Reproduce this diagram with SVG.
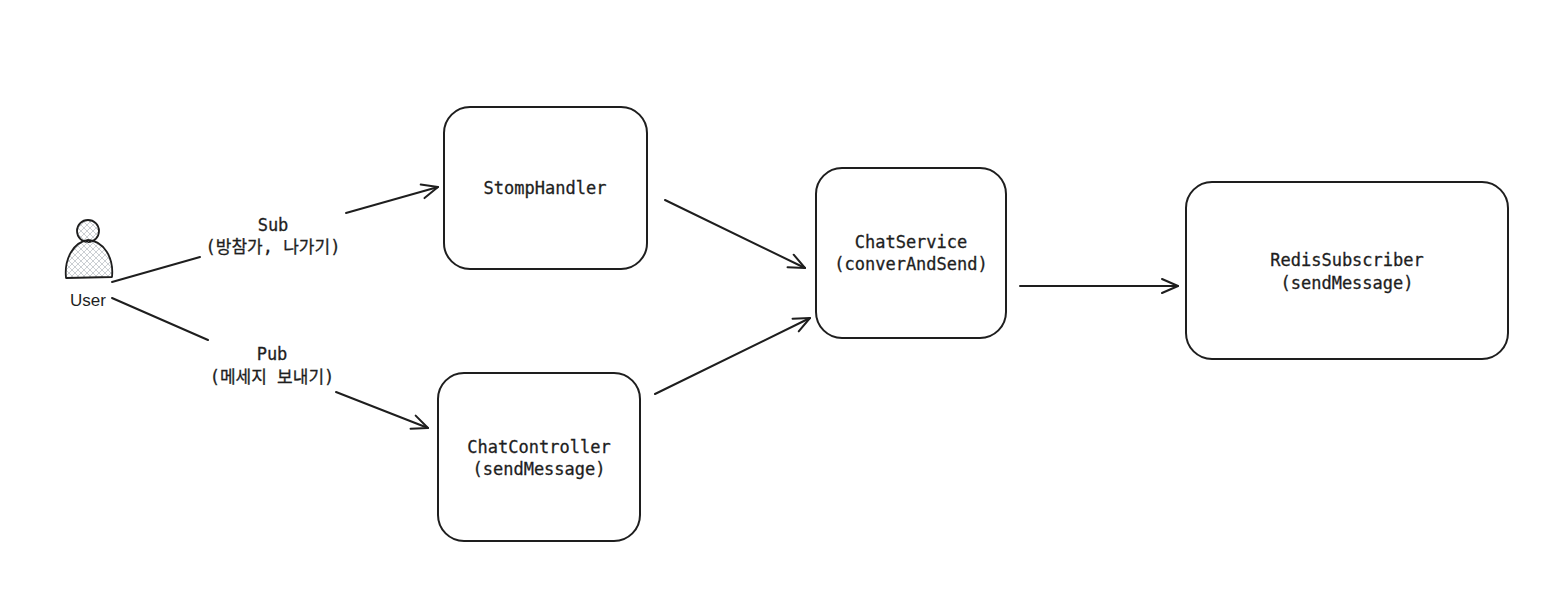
<svg xmlns="http://www.w3.org/2000/svg" width="1550" height="601" viewBox="0 0 1550 601">
<style>
.box{fill:#fff;stroke:#1e1e1e;stroke-width:2}
.t{font-family:"DejaVu Sans Mono","Noto Sans CJK KR",monospace;font-size:17px;fill:#1e1e1e;text-anchor:middle;stroke:#1e1e1e;stroke-width:0.3}
.lbl{font-family:"DejaVu Sans Mono","Noto Sans CJK KR",monospace;font-size:17px;fill:#1e1e1e;text-anchor:middle;stroke:#1e1e1e;stroke-width:0.3}
.c{fill:none;stroke:#1e1e1e;stroke-width:2;stroke-linecap:round}
</style>
<defs>
<marker id="ah" viewBox="0 0 20 20" refX="18" refY="10" markerWidth="20" markerHeight="20" markerUnits="userSpaceOnUse" orient="auto">
<path d="M2,3 L18,10 L2,17" fill="none" stroke="#1e1e1e" stroke-width="2" stroke-linecap="round" stroke-linejoin="round"/>
</marker>
<pattern id="hatch" width="6" height="6" patternUnits="userSpaceOnUse">
<path d="M0,0 L6,6 M6,0 L0,6" stroke="#a8aeb6" stroke-width="0.6"/>
</pattern>
</defs>
<rect width="1550" height="601" fill="#fff"/>
<g id="user">
<circle cx="88" cy="231" r="11" fill="url(#hatch)" stroke="#1e1e1e" stroke-width="1.8"/>
<path d="M66,278 C64,258 74,242 88,240 C104,241 114,258 112,277 Z" fill="url(#hatch)" stroke="#1e1e1e" stroke-width="1.8" stroke-linejoin="round"/>
<text x="88" y="306" style="font-family:'Liberation Sans',sans-serif;font-size:17px;fill:#1e1e1e;text-anchor:middle">User</text>
</g>
<g id="stomphandler">
<rect class="box" x="444" y="107" width="203" height="162" rx="26"/>
<text class="t" x="545" y="194">StompHandler</text>
</g>
<g id="chatcontroller">
<rect class="box" x="438" y="373" width="202" height="168" rx="26"/>
<text class="t" x="539" y="453">ChatController</text>
<text class="t" x="539" y="475">(sendMessage)</text>
</g>
<g id="chatservice">
<rect class="box" x="816" y="168" width="190" height="170" rx="26"/>
<text class="t" x="911" y="248">ChatService</text>
<text class="t" x="911" y="270">(converAndSend)</text>
</g>
<g id="redissubscriber">
<rect class="box" x="1186" y="182" width="322" height="177" rx="26"/>
<text class="t" x="1347" y="266">RedisSubscriber</text>
<text class="t" x="1347" y="289">(sendMessage)</text>
</g>
<g id="connectors">
<path class="c" d="M112,282 L200,257" stroke-width="3"/>
<path class="c" d="M346,213 L438,187" stroke-width="3" marker-end="url(#ah)"/>
<text class="lbl" x="273" y="231">Sub</text>
<text class="lbl" x="273" y="253">(방참가, 나가기)</text>
<path class="c" d="M112,298 L208,340" stroke-width="3"/>
<path class="c" d="M336,392 L428,428" marker-end="url(#ah)"/>
<text class="lbl" x="272" y="360">Pub</text>
<text class="lbl" x="272" y="383">(메세지 보내기)</text>
<path class="c" d="M665,200 L805,268" stroke-width="2.5" marker-end="url(#ah)"/>
<path class="c" d="M655,394 L810,318" marker-end="url(#ah)"/>
<path class="c" d="M1020,286 L1178,286" marker-end="url(#ah)"/>
</g>
</svg>
